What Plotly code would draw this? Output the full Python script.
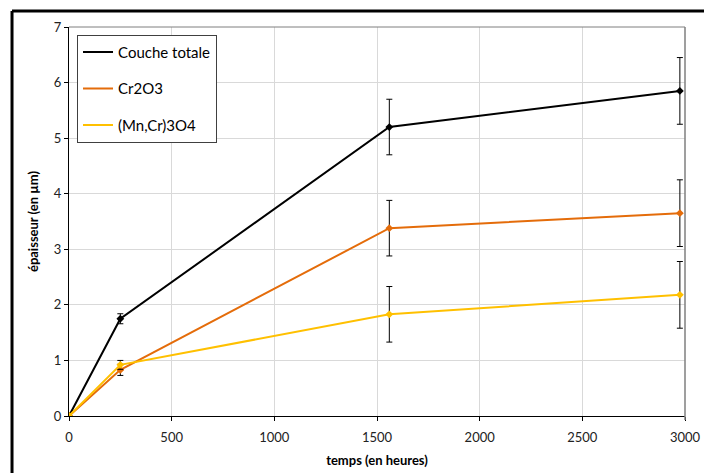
import plotly.graph_objects as go

temps = [0, 250, 1560, 2975]
couche_totale = [0, 1.75, 5.2, 5.85]
couche_err = [0, 0.09, 0.5, 0.6]
cr2o3 = [0, 0.83, 3.38, 3.65]
cr2o3_err = [0, 0.1, 0.5, 0.6]
mncr = [0, 0.92, 1.83, 2.18]
mncr_err = [0, 0.08, 0.5, 0.6]

names = ["Couche totale", "Cr2O3", "(Mn,Cr)3O4"]
colors = ["#000000", "#E46C0A", "#FFC000"]
series = [couche_totale, cr2o3, mncr]
errs = [couche_err, cr2o3_err, mncr_err]

FONT = "Lato, 'Open Sans', sans-serif"

fig = go.Figure()
for n, c, ys, es in zip(names, colors, series, errs):
    fig.add_trace(go.Scatter(
        x=temps, y=ys, name=n, mode="lines+markers",
        line=dict(color=c, width=2),
        marker=dict(symbol="diamond", size=6, color=c),
        error_y=dict(type="data", array=es, visible=True, color="#000000", thickness=1, width=3),
        legendgroup=n, showlegend=False,
    ))
# legend entries (line only, as in the original)
for n, c in zip(names, colors):
    fig.add_trace(go.Scatter(
        x=[None], y=[None], name=n, mode="lines",
        line=dict(color=c, width=2), legendgroup=n, showlegend=True,
    ))

fig.update_layout(
    width=712, height=473,
    margin=dict(l=61, r=35, t=19, b=65),
    paper_bgcolor="white", plot_bgcolor="white",
    font=dict(family=FONT, size=13, color="#222"),
    showlegend=True,
    legend=dict(
        x=0.013, y=0.98, xanchor="left", yanchor="top",
        bgcolor="white", bordercolor="#404040", borderwidth=1,
        font=dict(family=FONT, size=15, color="#000"),
        tracegroupgap=14,
        itemwidth=30,
    ),
    xaxis=dict(
        range=[0, 3000], tickvals=[0, 500, 1000, 1500, 2000, 2500, 3000],
        showgrid=True, gridcolor="#d9d9d9", gridwidth=1,
        showline=True, linecolor="#000", linewidth=1,
        ticks="outside", ticklen=4, tickcolor="#000",
        ticklabelstandoff=5,
        zeroline=False,
        title=dict(text="<b>temps (en heures)</b>", font=dict(size=13, color="#000"), standoff=12),
    ),
    yaxis=dict(
        range=[0, 7], dtick=1,
        showgrid=True, gridcolor="#d9d9d9", gridwidth=1,
        showline=True, linecolor="#000", linewidth=1,
        ticks="outside", ticklen=4, tickcolor="#000",
        zeroline=False,
        title=dict(text="<b>épaisseur (en µm)</b>", font=dict(size=13, color="#000"), standoff=12),
    ),
)

# plot area top/right gray border
fig.add_shape(type="line", xref="paper", yref="paper", x0=0, x1=1, y0=1, y1=1,
              line=dict(color="#7f7f7f", width=1))
fig.add_shape(type="line", xref="paper", yref="paper", x0=1, x1=1, y0=-0.01, y1=1,
              line=dict(color="#7f7f7f", width=1.5))
# outer chart frame (left and top)
fig.add_shape(type="line", xref="paper", yref="paper", x0=-0.0925, x1=1.2, y0=1.041, y1=1.041,
              line=dict(color="#000", width=3))
fig.add_shape(type="line", xref="paper", yref="paper", x0=-0.0925, x1=-0.0925, y0=-0.3, y1=1.041,
              line=dict(color="#000", width=3))

fig.write_html("out.html")
